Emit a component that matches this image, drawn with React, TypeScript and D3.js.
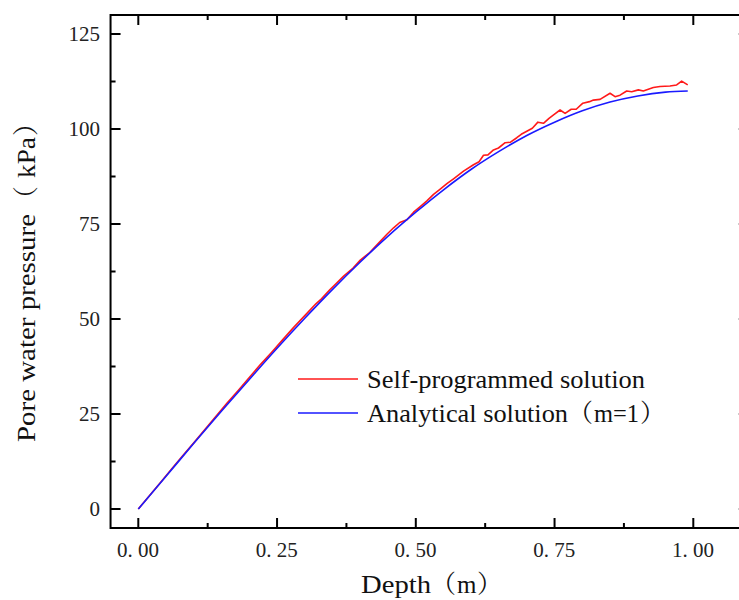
import React from "react";
import * as d3 from "d3";

// Analytical solution (m=1): depth (m) vs pore water pressure (kPa)
const depthAnalytical = [0, 0.05, 0.1, 0.15, 0.2, 0.25, 0.3, 0.35, 0.4, 0.45, 0.5, 0.55, 0.6, 0.65, 0.7, 0.75, 0.8, 0.85, 0.9, 0.95, 0.99];
const pressureAnalytical = [0, 8.6, 17.3, 25.8, 34.1, 42.3, 50.2, 57.8, 65.0, 71.8, 78.1, 84.0, 89.4, 94.1, 98.3, 101.8, 104.8, 107.1, 108.7, 109.7, 110.0];

// Self-programmed numerical solution
const depthSelf = [
  0, 0.02, 0.04, 0.06, 0.08, 0.1, 0.12, 0.14, 0.16, 0.18, 0.2, 0.22, 0.24, 0.26, 0.28, 0.3, 0.32,
  0.33, 0.345, 0.357, 0.37, 0.387, 0.4, 0.417, 0.43, 0.448, 0.46, 0.471, 0.484, 0.496, 0.508, 0.52,
  0.532, 0.544, 0.556, 0.568, 0.586, 0.604, 0.614, 0.622, 0.63, 0.64, 0.649, 0.661, 0.67, 0.682,
  0.69, 0.7, 0.71, 0.72, 0.73, 0.74, 0.75, 0.76, 0.769, 0.78, 0.789, 0.801, 0.813, 0.82, 0.832,
  0.85, 0.859, 0.868, 0.88, 0.889, 0.901, 0.91, 0.928, 0.94, 0.958, 0.97, 0.979, 0.99,
];
const pressureSelf = [
  0, 3.5, 7.0, 10.5, 14.0, 17.4, 20.9, 24.4, 27.9, 31.2, 34.6, 38.0, 41.2, 44.5, 47.8, 50.9, 54.0,
  55.3, 57.7, 59.4, 61.3, 63.4, 65.5, 67.5, 69.5, 72.3, 74.0, 75.4, 76.1, 78.1, 79.6, 81.1,
  82.8, 84.2, 85.6, 86.9, 88.9, 90.6, 91.4, 93.1, 93.2, 94.5, 95.0, 96.4, 96.5, 97.7,
  98.6, 99.4, 100.2, 101.8, 101.5, 102.8, 103.9, 105.0, 104.1, 105.2, 105.2, 106.8, 107.2, 107.6, 107.8,
  109.4, 108.5, 108.9, 110.0, 109.8, 110.3, 110.0, 110.9, 111.2, 111.3, 111.6, 112.6, 111.6,
];

const xTicks = [0, 0.25, 0.5, 0.75, 1.0];
const xTickLabels = ["0.00", "0.25", "0.50", "0.75", "1.00"];
const xMinorTicks = [0.125, 0.375, 0.625, 0.875];
const yTicks = [0, 25, 50, 75, 100, 125];
const yTickLabels = ["0", "25", "50", "75", "100", "125"];
const yMinorTicks = [12.5, 37.5, 62.5, 87.5, 112.5];

const seriesNames = ["Self-programmed solution", "Analytical solution"];
const seriesColors = ["#ff1a1a", "#1a1aff"];

const FONT = "'Liberation Serif', 'Times New Roman', 'Noto Serif CJK SC', 'Noto Sans CJK SC', serif";

export default function App() {
  const width = 739;
  const height = 600;

  const x = d3.scaleLinear().domain([-0.05, 1.1]).range([110.55, 748.8]);
  const y = d3.scaleLinear().domain([-5, 130]).range([528, 15]);

  const [x0, x1] = x.range();
  const [y0, y1] = y.range();

  const lineSelf = d3
    .line<number>()
    .x((_, i) => x(depthSelf[i]))
    .y((d) => y(d))
    .curve(d3.curveLinear);

  const lineAnalytical = d3
    .line<number>()
    .x((_, i) => x(depthAnalytical[i]))
    .y((d) => y(d))
    .curve(d3.curveMonotoneX);

  const major = 10;
  const minor = 5;

  return (
    <svg
      width={width}
      height={height}
      style={{ position: "absolute", left: 0, top: 0, background: "#fff" }}
      fontFamily={FONT}
    >
      <rect x={0} y={0} width={width} height={height} fill="#fff" />

      {/* curves */}
      <path d={lineSelf(pressureSelf) || ""} fill="none" stroke={seriesColors[0]} strokeWidth={1.6} strokeLinejoin="round" />
      <path d={lineAnalytical(pressureAnalytical) || ""} fill="none" stroke={seriesColors[1]} strokeWidth={1.6} />

      {/* frame */}
      <rect x={x0} y={y1} width={x1 - x0} height={y0 - y1} fill="none" stroke="#000" strokeWidth={2} />

      {/* x ticks, bottom and top */}
      {xTicks.map((t) => (
        <g key={`xt${t}`} stroke="#000" strokeWidth={2}>
          <line x1={x(t)} x2={x(t)} y1={y0} y2={y0 - major} />
          <line x1={x(t)} x2={x(t)} y1={y1} y2={y1 + major} />
        </g>
      ))}
      {xMinorTicks.map((t) => (
        <g key={`xm${t}`} stroke="#000" strokeWidth={2}>
          <line x1={x(t)} x2={x(t)} y1={y0} y2={y0 - minor} />
          <line x1={x(t)} x2={x(t)} y1={y1} y2={y1 + minor} />
        </g>
      ))}

      {/* y ticks, left and right */}
      {yTicks.map((t) => (
        <g key={`yt${t}`} stroke="#000" strokeWidth={2}>
          <line x1={x0} x2={x0 + major} y1={y(t)} y2={y(t)} />
          <line x1={x1} x2={x1 - major} y1={y(t)} y2={y(t)} />
        </g>
      ))}
      {yMinorTicks.map((t) => (
        <g key={`ym${t}`} stroke="#000" strokeWidth={2}>
          <line x1={x0} x2={x0 + minor} y1={y(t)} y2={y(t)} />
          <line x1={x1} x2={x1 - minor} y1={y(t)} y2={y(t)} />
        </g>
      ))}

      {/* x tick labels */}
      {xTicks.map((t, i) => {
        const [a, b] = xTickLabels[i].split(".");
        return (
          <text key={`xl${t}`} x={x(t) - 21.4} y={557} fontSize={21} fill="#222">
            <tspan>{a}.</tspan>
            <tspan dx={5.25}>{b}</tspan>
          </text>
        );
      })}

      {/* y tick labels */}
      {yTicks.map((t, i) => (
        <text key={`yl${t}`} x={100} y={y(t)} dy="0.34em" fontSize={21} textAnchor="end" fill="#222">
          {yTickLabels[i]}
        </text>
      ))}

      {/* axis titles */}
      <text y={593} fontSize={25} fill="#111">
        <tspan x={361} textLength={70} lengthAdjust="spacingAndGlyphs">Depth</tspan>
        <tspan x={431}>（</tspan>
        <tspan x={457}>m</tspan>
        <tspan x={477}>）</tspan>
      </text>
      <text transform="translate(35,442) rotate(-90)" y={0} fontSize={26} fill="#111">
        <tspan x={0} textLength={228} lengthAdjust="spacingAndGlyphs">Pore water pressure</tspan>
        <tspan x={230}>（</tspan>
        <tspan x={264} textLength={41} lengthAdjust="spacingAndGlyphs">kPa</tspan>
        <tspan x={306}>）</tspan>
      </text>

      {/* legend */}
      <line x1={298} x2={358} y1={379} y2={379} stroke={seriesColors[0]} strokeWidth={1.6} />
      <text x={367} y={388} fontSize={25} fill="#111">
        <tspan textLength={278} lengthAdjust="spacingAndGlyphs">{seriesNames[0]}</tspan>
      </text>
      <line x1={298} x2={358} y1={413} y2={413} stroke={seriesColors[1]} strokeWidth={1.6} />
      <text y={422} fontSize={25} fill="#111">
        <tspan x={367} textLength={201} lengthAdjust="spacingAndGlyphs">{seriesNames[1]}</tspan>
        <tspan x={568}>（</tspan>
        <tspan x={594} textLength={45} lengthAdjust="spacingAndGlyphs">m=1</tspan>
        <tspan x={640}>）</tspan>
      </text>
    </svg>
  );
}
